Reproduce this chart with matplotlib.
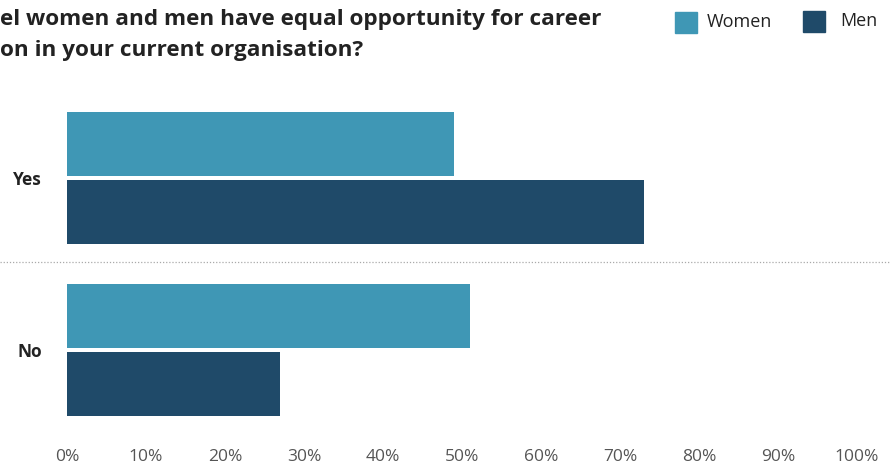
import matplotlib
matplotlib.use("Agg")
import numpy as np
from matplotlib import pyplot as plt
from matplotlib.lines import Line2D
from matplotlib.patches import Rectangle

plt.rcParams['font.family'] = ['Open Sans', 'DejaVu Sans']

answers = ["Yes", "No"]
women = [49, 51]
men = [73, 27]
tick_values = [0, 10, 20, 30, 40, 50, 60, 70, 80, 90, 100]
tick_labels = ["%d%%" % v for v in tick_values]

women_color = "#3f97b5"
men_color = "#1f4a69"

fig = plt.figure(figsize=(8.91, 4.70), dpi=100)
W, H = 891.0, 470.0
ax = fig.add_axes([67 / W, 1 - 430 / H, 790 / W, 330 / H])

pos = np.arange(len(answers))
bh = 0.375
ax.barh(pos - 0.198, women, height=bh, color=women_color, label="Women")
ax.barh(pos + 0.198, men, height=bh, color=men_color, label="Men")

ax.set_xlim(0, 100)
ax.set_ylim(1.465, -0.453)
ax.set_xticks(tick_values)
ax.set_xticklabels(tick_labels, fontsize=12.5, color="#555555")
ax.tick_params(axis="x", length=0, pad=14)
ax.set_yticks(pos)
ax.set_yticklabels(answers, fontsize=12.5, fontweight="bold", color="#222222")
ax.tick_params(axis="y", length=0, pad=18)
for s in ax.spines.values():
    s.set_visible(False)

# dotted separator between groups
fig.add_artist(Line2D([0, 1], [1 - 262 / H, 1 - 262 / H], transform=fig.transFigure,
                      color="#aaaaaa", linestyle=(0, (1, 1.5)), linewidth=0.9))

# title (cropped in the original)
fig.text(0 / W, 1 - 9 / H, "el women and men have equal opportunity for career\non in your current organisation?",
         fontsize=16.2, fontweight="bold", color="#222222", va="top", linespacing=1.6)

# legend
fig.add_artist(Rectangle((675 / W, 1 - 33 / H), 22 / W, 21 / H, transform=fig.transFigure,
                         color=women_color))
fig.text(707 / W, 1 - 22 / H, "Women", fontsize=13, va="center", color="#222222")
fig.add_artist(Rectangle((803 / W, 1 - 32 / H), 22 / W, 21 / H, transform=fig.transFigure,
                         color=men_color))
fig.text(840 / W, 1 - 21 / H, "Men", fontsize=13, va="center", color="#222222")

fig.savefig("out.png", dpi=100)
